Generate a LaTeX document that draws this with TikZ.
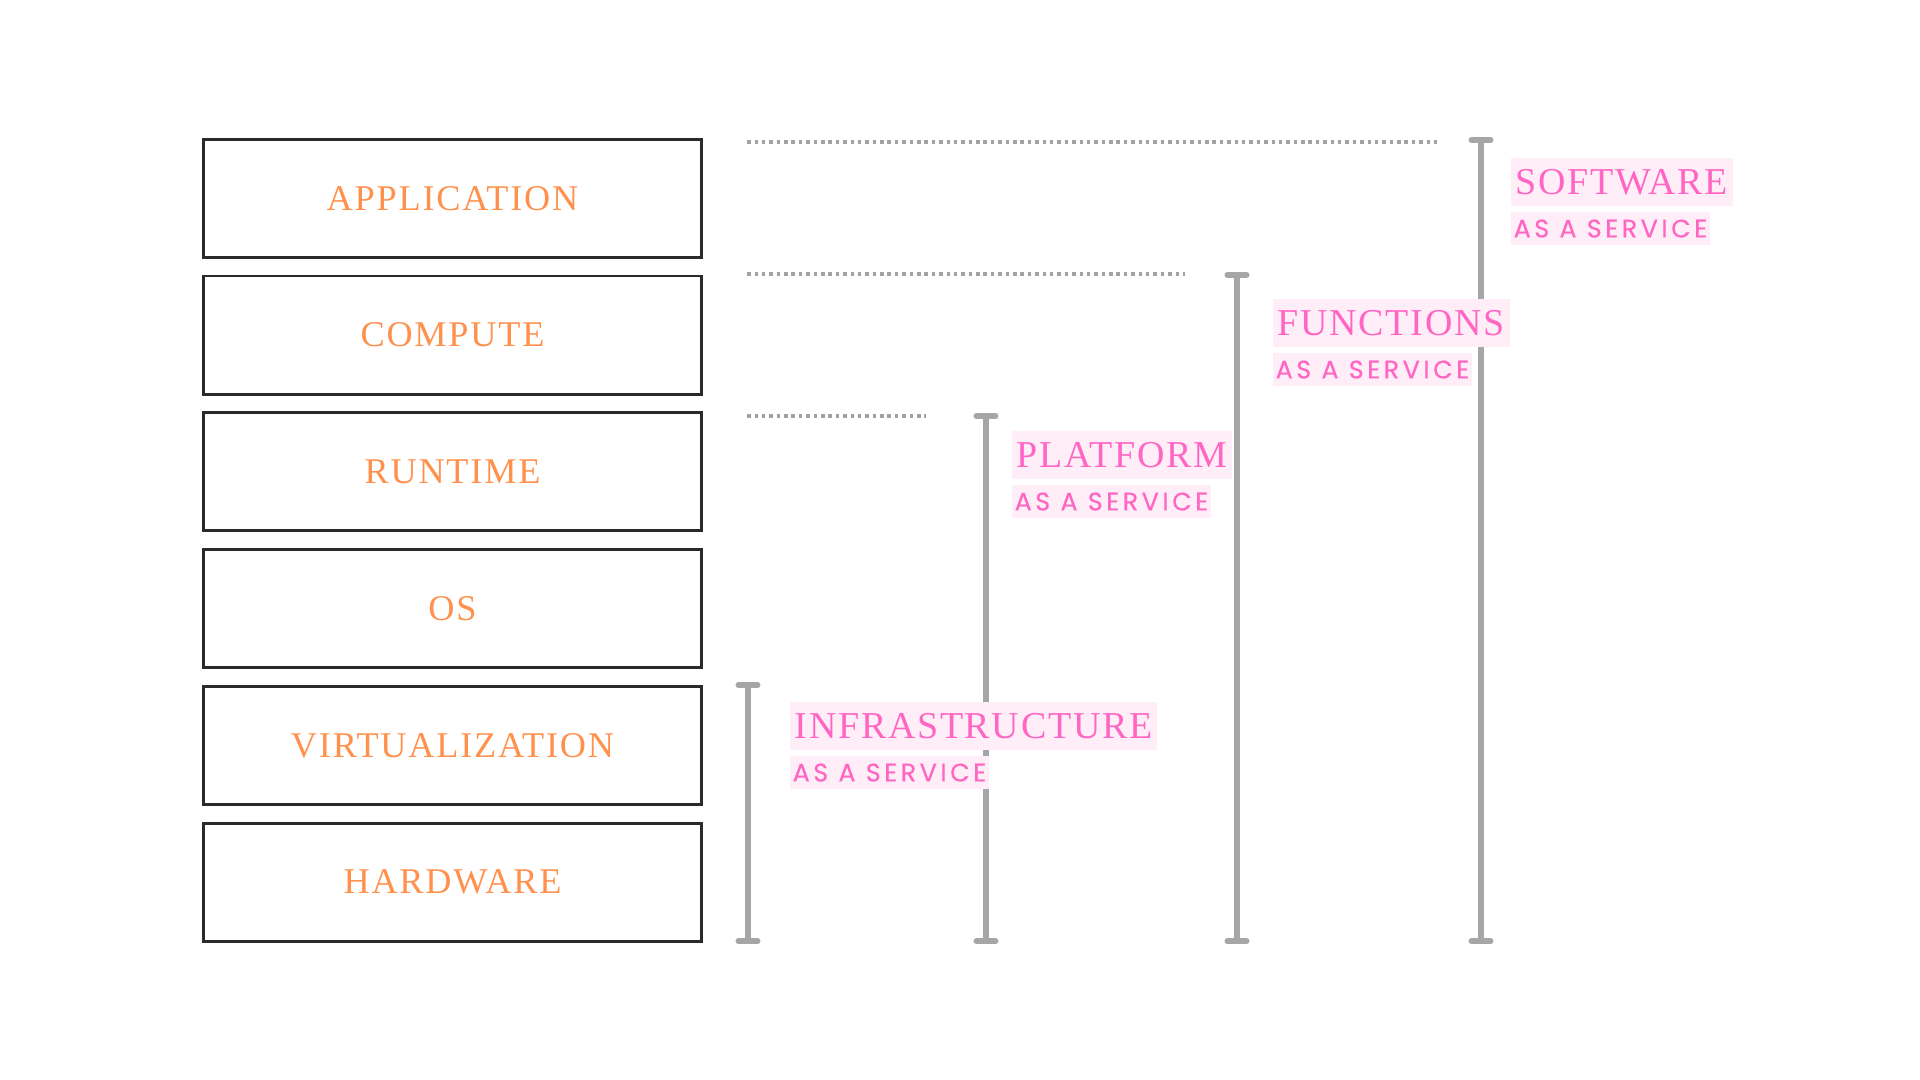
\documentclass[tikz,border=0pt]{standalone}
\usepackage{fontspec}
\setmainfont{Liberation Serif}
\newfontfamily\layerfont{Liberation Serif}[LetterSpace=5]
\newfontfamily\titlefont{Liberation Serif}[LetterSpace=4.5]
\newfontfamily\subfont{Poppins}[LetterSpace=14,FakeBold=0.4]
\usepackage{tikz}
\usetikzlibrary{arrows.meta,positioning}

\definecolor{layerorange}{HTML}{FF914D}
\definecolor{servicepink}{HTML}{FF66C4}
\definecolor{pinkbg}{HTML}{FFEEF8}
\definecolor{bargray}{HTML}{A6A6A6}
\definecolor{dotgray}{HTML}{A2A2A2}
\definecolor{boxline}{HTML}{2A2A2A}

\begin{document}
\begin{tikzpicture}
	[x=0.01cm,y=-0.01cm,
	layer/.style={draw=boxline,line width=0.8pt,outer sep=0pt,
		minimum width=4.97cm,minimum height=1.18cm,inner sep=0pt,
		text=layerorange,font=\layerfont\fontsize{10.3pt}{12pt}\selectfont},
	svc/.style={fill=pinkbg,text=servicepink,anchor=west,
		font=\titlefont\fontsize{10.8pt}{12pt}\selectfont,
		inner xsep=0.05cm,inner ysep=0.11cm,text height=7.15pt,text depth=0pt},
	svcsub/.style={fill=pinkbg,text=servicepink,anchor=north west,
		font=\subfont\fontsize{7.2pt}{8pt}\selectfont,
		inner xsep=0.03cm,inner ysep=0.075cm,text height=5.1pt,text depth=0pt},
	bar/.style={bargray,line width=1.7pt,
		{Bar[width=0.19cm,round]}-{Bar[width=0.19cm,round]}},
	dotline/.style={dotgray,line width=1pt,dash pattern=on 1pt off 1.1pt}]
\useasboundingbox (0,0) rectangle (1920,1080);

%capas
\node[layer] (app) at (452.5,198.3) {APPLICATION};
\node[layer,below=0.187cm of app] (compute) {COMPUTE};
\node[layer,below=0.187cm of compute] (runtime) {RUNTIME};
\node[layer,below=0.187cm of runtime] (os) {OS};
\node[layer,below=0.187cm of os] (virt) {VIRTUALIZATION};
\node[layer,below=0.187cm of virt] (hw) {HARDWARE};

%barras
\coordinate (iaas-top) at (748,682);
\coordinate (paas-top) at (986,413);
\coordinate (faas-top) at (1237,272);
\coordinate (saas-top) at (1481,137);
\draw[bar] (iaas-top) -- ([yshift=-0.03cm]iaas-top |- hw.south);
\draw[bar] (paas-top) -- ([yshift=-0.03cm]paas-top |- hw.south);
\draw[bar] (faas-top) -- ([yshift=-0.03cm]faas-top |- hw.south);
\draw[bar] (saas-top) -- ([yshift=-0.03cm]saas-top |- hw.south);

%lineas punteadas
\draw[dotline] ([xshift=0.46cm,yshift=-0.05cm]app.east |- saas-top) -- ([xshift=-0.43cm,yshift=-0.05cm]saas-top);
\draw[dotline] ([xshift=0.46cm,yshift=-0.02cm]app.east |- faas-top) -- ([xshift=-0.52cm,yshift=-0.02cm]faas-top);
\draw[dotline] ([xshift=0.46cm,yshift=-0.03cm]app.east |- paas-top) -- ([xshift=-0.60cm,yshift=-0.03cm]paas-top);

%etiquetas
\node[svc] (iaas) at (789,726) {INFRASTRUCTURE};
\node[svcsub] (iaas-sub) at ([yshift=-0.05cm]iaas.south west) {AS A SERVICE};
\node[svc] (paas) at (1011,455) {PLATFORM};
\node[svcsub] (paas-sub) at ([yshift=-0.05cm]paas.south west) {AS A SERVICE};
\node[svc] (faas) at (1272,323) {FUNCTIONS};
\node[svcsub] (faas-sub) at ([yshift=-0.05cm]faas.south west) {AS A SERVICE};
\node[svc] (saas) at (1510,182) {SOFTWARE};
\node[svcsub] (saas-sub) at ([yshift=-0.05cm]saas.south west) {AS A SERVICE};
\end{tikzpicture}
\end{document}
